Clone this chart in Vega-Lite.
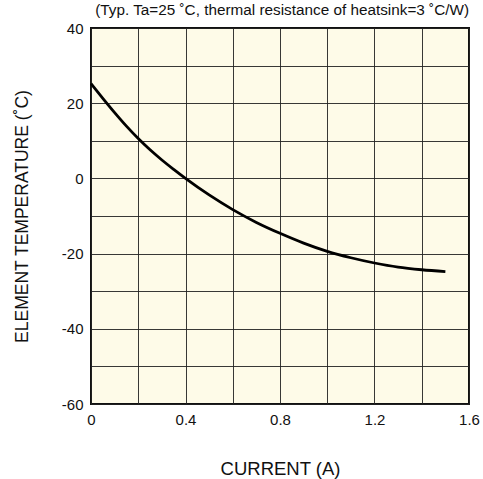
{
  "$schema": "https://vega.github.io/schema/vega-lite/v6.json",
  "autosize": "none",
  "width": 378,
  "height": 376,
  "padding": {"left": 91, "top": 28, "right": 14, "bottom": 75},
  "background": "white",
  "title": {
    "text": "(Typ. Ta=25 ˚C, thermal resistance of heatsink=3 ˚C/W)",
    "anchor": "end",
    "frame": "group",
    "font": "Liberation Sans",
    "fontSize": 15.3,
    "fontWeight": "normal",
    "color": "#111",
    "offset": 3
  },
  "config": {
    "view": {"fill": "#FEFBE8", "stroke": "#111", "strokeWidth": 2},
    "axis": {
      "labelFont": "Liberation Sans",
      "titleFont": "Liberation Sans",
      "labelFontSize": 15,
      "titleFontWeight": "normal",
      "labelColor": "#111",
      "titleColor": "#111",
      "labelFlush": false,
      "labelOverlap": false,
      "ticks": false,
      "domain": false,
      "grid": true,
      "gridColor": "#222",
      "gridOpacity": 0.9,
      "gridWidth": 1
    }
  },
  "data": {
    "values": [
      {"current": 0.0, "temp": 25.2},
      {"current": 0.05, "temp": 21.3},
      {"current": 0.1, "temp": 17.5},
      {"current": 0.15, "temp": 13.9},
      {"current": 0.2, "temp": 10.6},
      {"current": 0.25, "temp": 7.6},
      {"current": 0.3, "temp": 4.9},
      {"current": 0.35, "temp": 2.4},
      {"current": 0.4, "temp": 0.0},
      {"current": 0.5, "temp": -4.4},
      {"current": 0.6, "temp": -8.3},
      {"current": 0.7, "temp": -11.7},
      {"current": 0.8, "temp": -14.6},
      {"current": 0.9, "temp": -17.2},
      {"current": 1.0, "temp": -19.4},
      {"current": 1.1, "temp": -21.1},
      {"current": 1.2, "temp": -22.5},
      {"current": 1.3, "temp": -23.6},
      {"current": 1.4, "temp": -24.3},
      {"current": 1.5, "temp": -24.8}
    ]
  },
  "mark": {"type": "line", "color": "#000", "strokeWidth": 2.8, "interpolate": "monotone"},
  "encoding": {
    "x": {
      "field": "current",
      "type": "quantitative",
      "scale": {"domain": [0, 1.6], "nice": false},
      "axis": {
        "title": "CURRENT (A)",
        "titleFontSize": 18.5,
        "values": [0, 0.2, 0.4, 0.6, 0.8, 1.0, 1.2, 1.4, 1.6],
        "labelExpr": "round(datum.value*10) % 4 == 0 ? toString(datum.value) : ''",
        "labelPadding": 8,
        "titlePadding": 32
      }
    },
    "y": {
      "field": "temp",
      "type": "quantitative",
      "scale": {"domain": [-60, 40], "nice": false},
      "axis": {
        "title": "ELEMENT TEMPERATURE (˚C)",
        "titleFontSize": 17.5,
        "values": [-60, -50, -40, -30, -20, -10, 0, 10, 20, 30, 40],
        "labelExpr": "round(datum.value) % 20 == 0 ? toString(datum.value) : ''",
        "labelPadding": 8,
        "titlePadding": 30
      }
    }
  }
}
